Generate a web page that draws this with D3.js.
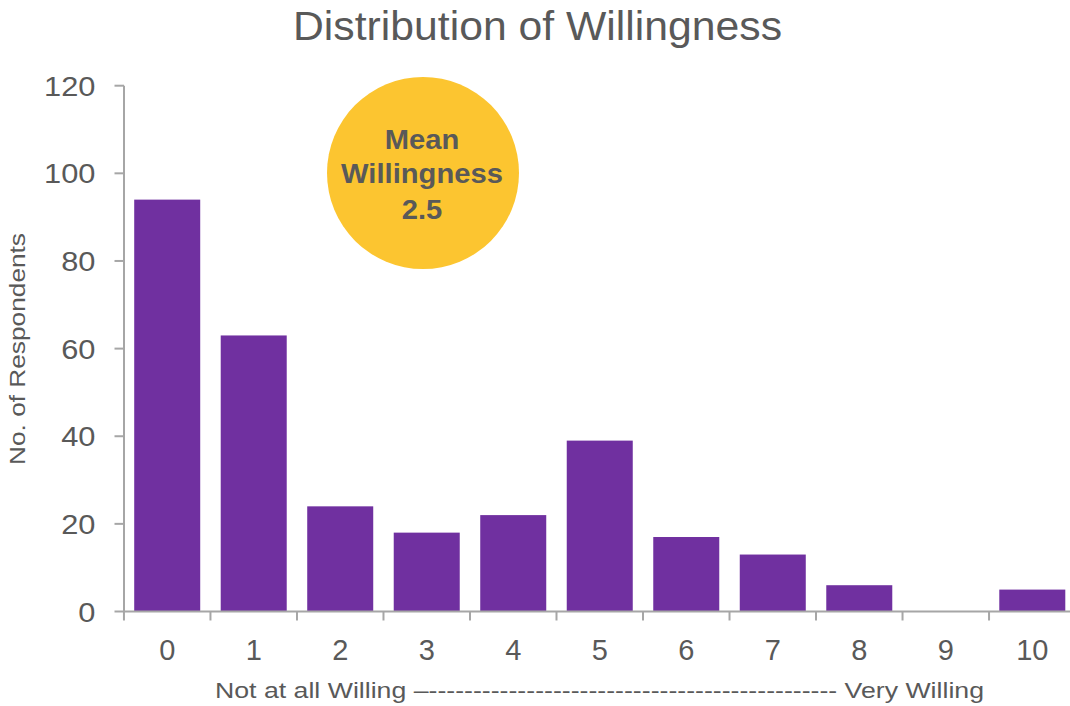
<!DOCTYPE html>
<html>
<head>
<meta charset="utf-8">
<script src="https://cdn.jsdelivr.net/npm/d3@7"></script>
<style>
  html, body { margin: 0; padding: 0; background: #fff; }
  svg { display: block; font-family: "Liberation Sans", Arial, sans-serif; }
</style>
</head>
<body>
<svg id="chart" width="1070" height="706"></svg>
<script>
// ---- data ----
const categories = ["0","1","2","3","4","5","6","7","8","9","10"];
const respondents = [94, 63, 24, 18, 22, 39, 17, 13, 6, 0, 5];
const yTicks = [0, 20, 40, 60, 80, 100, 120];
const titleText = "Distribution of Willingness";
const yLabelText = "No. of Respondents";
const captionText = "Not at all Willing \u2013" + "-".repeat(46) + " Very Willing";
const meanLines = ["Mean", "Willingness", "2.5"];

// ---- styles ----
const barColor = "#7030A0";
const axisColor = "#A6A6A6";
const textColor = "#595959";
const badgeColor = "#FCC530";

const svg = d3.select("#chart");

const x = d3.scaleBand().domain(categories)
  .range([124, 1075.5]).paddingInner(0.237).paddingOuter(0.118);
const y = d3.scaleLinear().domain([0, 120]).range([611.5, 85.7]);

const step = x.step();
const gap = step - x.bandwidth();

function stretch(sel, f) {
  sel.each(function () {
    const len = this.getComputedTextLength();
    d3.select(this).attr("textLength", len * f).attr("lengthAdjust", "spacingAndGlyphs");
  });
}

// bars
svg.append("g").selectAll("rect").data(categories).join("rect")
  .attr("x", d => x(d))
  .attr("width", x.bandwidth())
  .attr("y", (d, i) => y(respondents[i]))
  .attr("height", (d, i) => y(0) - y(respondents[i]))
  .attr("fill", barColor);

// y axis
const yAxis = svg.append("g");
yAxis.append("line").attr("x1", 124).attr("x2", 124)
  .attr("y1", y(120)).attr("y2", y(0))
  .attr("stroke", axisColor).attr("stroke-width", 2);
yAxis.selectAll("line.tick").data(yTicks).join("line").attr("class", "tick")
  .attr("x1", 114.5).attr("x2", 124)
  .attr("y1", d => y(d)).attr("y2", d => y(d))
  .attr("stroke", axisColor).attr("stroke-width", 2);
yAxis.selectAll("text").data(yTicks).join("text")
  .attr("x", 95.5).attr("y", d => y(d))
  .attr("dy", "0.36em")
  .attr("text-anchor", "end")
  .attr("font-size", 28)
  .attr("fill", textColor)
  .text(d => d)
  .call(stretch, 1.1);

// x axis
const xAxis = svg.append("g");
xAxis.append("line").attr("x1", 124).attr("x2", 1075.5)
  .attr("y1", y(0)).attr("y2", y(0))
  .attr("stroke", axisColor).attr("stroke-width", 2);
const boundaries = categories.map(c => x(c) - gap / 2).concat([x(categories[categories.length - 1]) + x.bandwidth() + gap / 2]);
xAxis.selectAll("line.tick").data(boundaries).join("line").attr("class", "tick")
  .attr("x1", d => d).attr("x2", d => d)
  .attr("y1", y(0)).attr("y2", y(0) + 9)
  .attr("stroke", axisColor).attr("stroke-width", 2);
xAxis.selectAll("text").data(categories).join("text")
  .attr("x", d => x(d) + x.bandwidth() / 2)
  .attr("y", 660)
  .attr("text-anchor", "middle")
  .attr("font-size", 29)
  .attr("fill", textColor)
  .text(d => d);

// title
svg.append("text")
  .attr("x", 537.5).attr("y", 40)
  .attr("text-anchor", "middle")
  .attr("font-size", 40)
  .attr("fill", textColor)
  .attr("textLength", 489).attr("lengthAdjust", "spacingAndGlyphs")
  .text(titleText);

// y label
svg.append("text")
  .attr("transform", "translate(25,349) rotate(-90)")
  .attr("text-anchor", "middle")
  .attr("font-size", 22)
  .attr("fill", textColor)
  .attr("textLength", 232).attr("lengthAdjust", "spacingAndGlyphs")
  .text(yLabelText);

// caption
svg.append("text")
  .attr("x", 215).attr("y", 698)
  .attr("font-size", 22)
  .attr("fill", textColor)
  .attr("textLength", 769).attr("lengthAdjust", "spacingAndGlyphs")
  .text(captionText);

// mean badge
const badge = svg.append("g");
badge.append("circle").attr("cx", 423).attr("cy", 173).attr("r", 96).attr("fill", badgeColor);
const baselines = [148.5, 183, 219];
badge.selectAll("text").data(meanLines).join("text")
  .attr("x", 422).attr("y", (d, i) => baselines[i])
  .attr("text-anchor", "middle")
  .attr("font-size", 27)
  .attr("font-weight", "bold")
  .attr("fill", textColor)
  .text(d => d)
  .call(stretch, 1.08);
</script>
</body>
</html>
